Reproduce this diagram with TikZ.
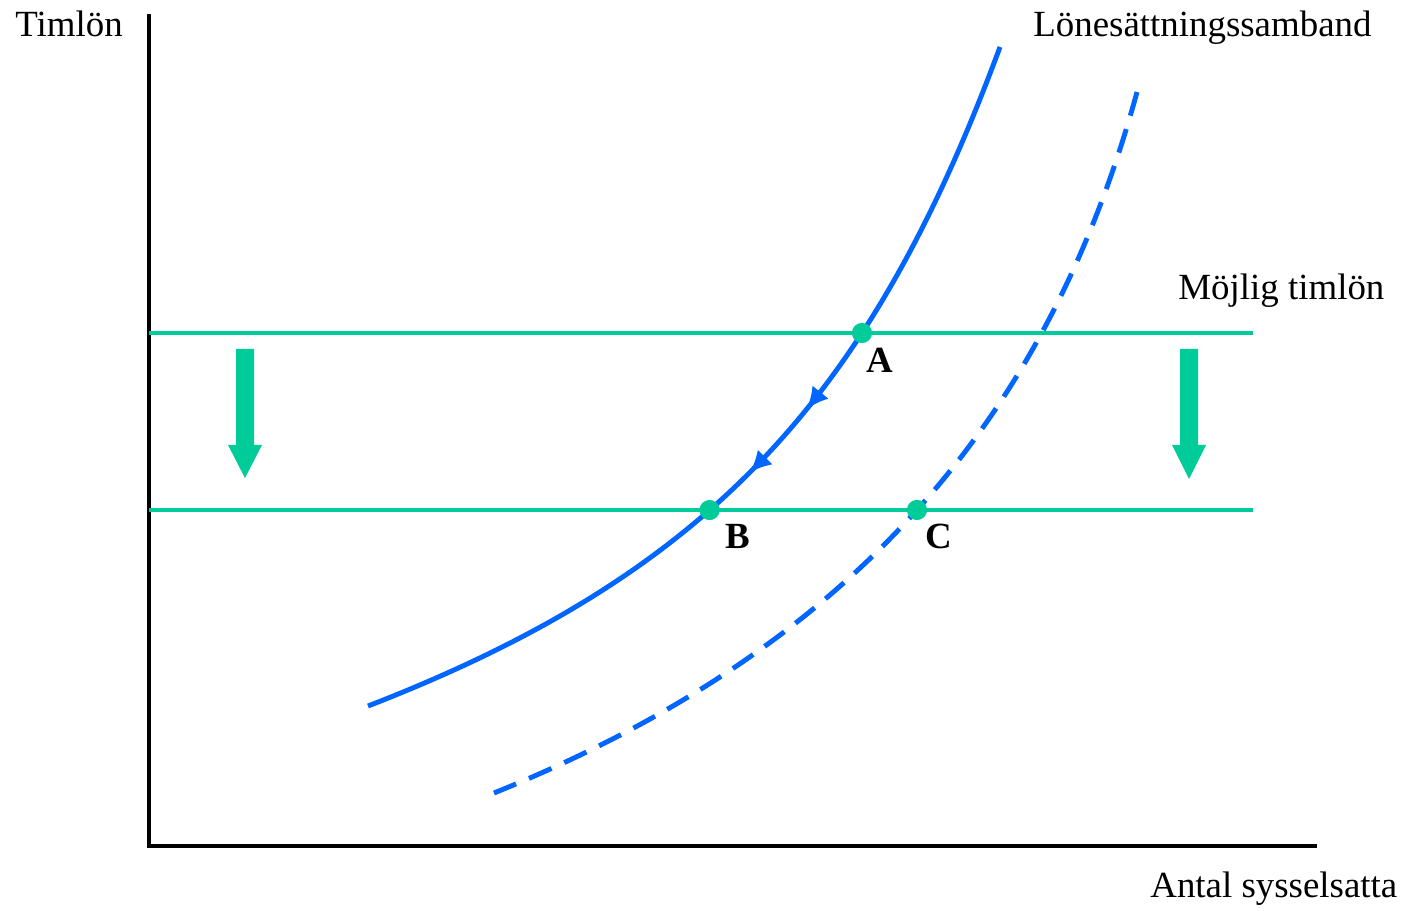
\documentclass[tikz,border=0pt]{standalone}
\usepackage{fontspec}
\setmainfont{Liberation Serif}
\usetikzlibrary{decorations.markings,arrows.meta,intersections}
\definecolor{curveblue}{RGB}{0,102,255}
\definecolor{wagegreen}{RGB}{0,204,153}
\begin{document}
\begin{tikzpicture}[x=0.02cm,y=-0.02cm,
  axisline/.style={line width=1.8pt,black},
  wageline/.style={line width=2.2pt,wagegreen},
  wscurve/.style={line width=2.8pt,curveblue},
  dot/.style={circle,fill=wagegreen,inner sep=0pt,minimum size=11.5pt},
  lbl/.style={font=\fontsize{21}{24}\selectfont,inner sep=0pt},
  ptlbl/.style={font=\fontsize{21}{24}\selectfont\bfseries,inner sep=0pt,anchor=base west},
  downarrow/.style={fill=wagegreen,draw=none}]
\useasboundingbox (0,0) rectangle (1408,911);
% axes
\coordinate (O) at (149,846);
\coordinate (ytop) at (149,14);
\coordinate (xend) at (1317,846);
\draw[axisline] (ytop) -- (O) -- (xend);
% wage lines
\coordinate (w1l) at (149,333);
\coordinate (w1r) at (1253,333);
\coordinate (w2l) at (149,510);
\coordinate (w2r) at (1253,510);
\draw[wageline,name path=wone] (w1l) -- (w1r);
\draw[wageline,name path=wtwo] (w2l) -- (w2r);
% dashed curve
\coordinate (d0) at (1137,92);
\coordinate (d1) at (494,793);
\draw[wscurve,dash pattern=on 14pt off 8pt,name path=dcurve]
  (d0) .. controls (1045,428) and (843,652) .. (d1);
% solid curve
\coordinate (s0) at (1000,47);
\coordinate (s1) at (368,706);
\draw[wscurve,name path=scurve,postaction={decorate,decoration={markings,
   mark=at position 0.435 with {\arrow{Latex[length=12.5pt,width=12pt]}},
   mark=at position 0.525 with {\arrow{Latex[length=12.5pt,width=12pt]}}}}]
  (s0) .. controls (872,393) and (714,572) .. (s1);
% points
\path[name intersections={of=scurve and wone,by=pA}];
\path[name intersections={of=scurve and wtwo,by=pB}];
\path[name intersections={of=dcurve and wtwo,by=pC}];
\node[dot] (A) at (pA) {};
\node[dot] (B) at (pB) {};
\node[dot] (C) at (pC) {};
\node[ptlbl] (Al) at (866,373) {A};
\node[ptlbl] (Bl) at (725,548) {B};
\node[ptlbl] (Cl) at (925,548) {C};
% green down arrows
\fill[downarrow] (236,349) -- (254,349) -- (254,445) -- (262,445) -- (245,478) -- (228,445) -- (236,445) -- cycle;
\fill[downarrow] (1180,349) -- (1198,349) -- (1198,445) -- (1206,445) -- (1189,479) -- (1172,445) -- (1180,445) -- cycle;
% texts
\node[lbl,anchor=base west] (ylab) at (15,37) {Timlön};
\node[lbl,anchor=base west] (wslab) at (1033,37) {Lönesättningssamband};
\node[lbl,anchor=base west] (mlab) at (1178,300) {Möjlig timlön};
\node[lbl,anchor=base west] (xlab) at (1150,897) {Antal sysselsatta};
\end{tikzpicture}
\end{document}
